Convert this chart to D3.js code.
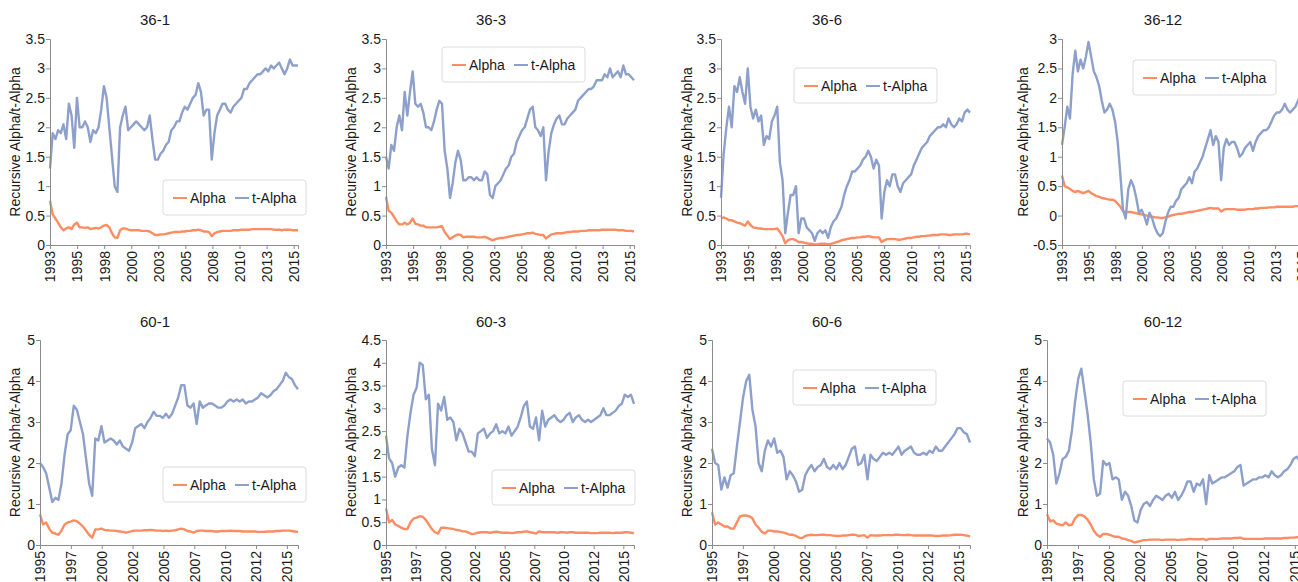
<!DOCTYPE html>
<html>
<head>
<meta charset="utf-8">
<script src="https://cdn.jsdelivr.net/npm/d3@7"></script>
<style>
  body { margin: 0; background: #fff; }
  svg { display: block; font-family: "Liberation Sans", Arial, sans-serif; }
  .axis path, .axis line { stroke: #8c8c8c; }
  .axis text { fill: #1a1a1a; font-size: 14px; }
</style>
</head>
<body>
<div id="chart"></div>
<script>
// quarterly readings, 36-month window (1993 -> end 2015)
var alpha36_1 = [0.75,0.52,0.45,0.38, 0.3,0.25,0.28,0.3, 0.27,0.35,0.38,0.3, 0.3,0.29,0.3,0.27,
  0.28,0.29,0.28,0.3, 0.33,0.34,0.3,0.2, 0.13,0.12,0.25,0.28, 0.28,0.26,0.25,0.25,
  0.25,0.25,0.24,0.24, 0.24,0.23,0.2,0.17, 0.17,0.18,0.18,0.19, 0.2,0.21,0.22,0.22,
  0.22,0.23,0.23,0.24, 0.24,0.25,0.25,0.26, 0.25,0.23,0.23,0.22, 0.15,0.2,0.22,0.23,
  0.24,0.24,0.24,0.24, 0.25,0.25,0.25,0.26, 0.26,0.26,0.26,0.27, 0.27,0.27,0.27,0.27,
  0.27,0.27,0.27,0.26, 0.26,0.26,0.25,0.26, 0.26,0.26,0.25,0.25, 0.25];
var tAlpha36_1 = [1.3,1.9,1.8,1.95, 1.9,2.05,1.8,2.4, 2.2,1.65,2.5,2.0, 2.0,2.1,2.0,1.75,
  1.95,1.9,2.0,2.3, 2.7,2.5,2.0,1.5, 1.0,0.9,2.0,2.2, 2.35,1.95,2.0,2.05,
  2.1,2.05,2.0,1.95, 2.0,2.2,1.8,1.45, 1.45,1.55,1.6,1.7, 1.75,1.95,2.0,2.1,
  2.1,2.25,2.35,2.3, 2.4,2.5,2.55,2.75, 2.6,2.2,2.3,2.3, 1.45,1.9,2.2,2.3,
  2.4,2.4,2.3,2.25, 2.35,2.4,2.45,2.5, 2.65,2.65,2.75,2.8, 2.85,2.9,2.9,2.95,
  3.0,2.95,3.05,3.0, 3.05,3.1,3.0,2.9, 3.0,3.15,3.05,3.05, 3.05];

var alpha36_3 = [0.82,0.58,0.55,0.48, 0.4,0.35,0.35,0.38, 0.35,0.38,0.45,0.36, 0.35,0.33,0.33,0.3,
  0.3,0.3,0.3,0.3, 0.31,0.32,0.22,0.16, 0.1,0.13,0.16,0.18, 0.17,0.13,0.14,0.14,
  0.14,0.14,0.13,0.13, 0.13,0.14,0.12,0.1, 0.08,0.1,0.11,0.12, 0.12,0.13,0.14,0.15,
  0.16,0.17,0.17,0.18, 0.19,0.2,0.2,0.21, 0.19,0.18,0.17,0.17, 0.11,0.15,0.18,0.19,
  0.2,0.2,0.2,0.21, 0.22,0.22,0.23,0.23, 0.23,0.24,0.24,0.24, 0.25,0.25,0.25,0.25,
  0.25,0.26,0.26,0.26, 0.26,0.26,0.26,0.25, 0.25,0.25,0.24,0.24, 0.24,0.23];
var tAlpha36_3 = [1.5,1.3,1.7,1.6, 2.0,2.2,1.95,2.6, 2.2,2.6,2.95,2.4, 2.35,2.4,2.25,2.0,
  2.0,1.95,2.1,2.3, 2.45,2.4,1.6,1.3, 0.8,1.05,1.4,1.6, 1.45,1.1,1.1,1.15,
  1.15,1.1,1.15,1.1, 1.1,1.25,1.2,0.85, 0.8,1.0,1.05,1.1, 1.2,1.3,1.35,1.5,
  1.55,1.75,1.85,1.95, 2.0,2.15,2.3,2.35, 2.0,1.95,1.85,2.0, 1.1,1.6,1.9,2.05,
  2.15,2.2,2.05,2.05, 2.15,2.2,2.25,2.3, 2.45,2.5,2.55,2.6, 2.65,2.65,2.7,2.8,
  2.8,2.8,2.9,2.85, 3.0,2.85,2.9,2.95, 2.85,3.05,2.9,2.9, 2.85,2.8];

var alpha36_6 = [0.45,0.47,0.45,0.42, 0.42,0.4,0.38,0.37, 0.35,0.33,0.4,0.34, 0.3,0.29,0.28,0.28,
  0.27,0.27,0.27,0.27, 0.27,0.28,0.22,0.15, 0.03,0.08,0.1,0.1, 0.08,0.05,0.05,0.04,
  0.03,0.02,0.02,0.01, 0.01,0.02,0.02,0.02, 0.01,0.02,0.03,0.05, 0.06,0.08,0.09,0.1,
  0.11,0.12,0.12,0.13, 0.13,0.14,0.14,0.15, 0.14,0.13,0.13,0.13, 0.05,0.08,0.1,0.1,
  0.1,0.1,0.09,0.09, 0.1,0.11,0.12,0.12, 0.13,0.14,0.14,0.15, 0.15,0.16,0.16,0.17,
  0.17,0.17,0.18,0.18, 0.18,0.17,0.17,0.18, 0.18,0.18,0.18,0.19, 0.19,0.18];
var tAlpha36_6 = [0.8,1.55,2.0,2.35, 2.0,2.7,2.6,2.85, 2.6,2.4,3.0,2.35, 2.15,2.3,2.1,2.2,
  1.7,1.85,1.8,2.1, 2.2,2.35,1.4,1.1, 0.2,0.55,0.85,0.85, 1.0,0.2,0.45,0.45,
  0.3,0.25,0.2,0.07, 0.2,0.25,0.2,0.25, 0.12,0.3,0.4,0.45, 0.55,0.65,0.85,1.0,
  1.1,1.25,1.25,1.3, 1.35,1.45,1.5,1.6, 1.5,1.3,1.45,1.35, 0.45,0.9,1.1,1.0,
  1.2,1.2,1.0,0.9, 1.05,1.1,1.15,1.2, 1.35,1.45,1.55,1.65, 1.7,1.75,1.85,1.9,
  1.95,2.0,2.0,2.05, 2.0,2.15,2.05,2.0, 2.05,2.15,2.1,2.25, 2.3,2.25];

var alpha36_12 = [0.68,0.5,0.48,0.45, 0.42,0.4,0.42,0.4, 0.38,0.4,0.42,0.38, 0.36,0.33,0.32,0.3,
  0.29,0.28,0.27,0.27, 0.25,0.2,0.15,0.08, 0.05,0.06,0.06,0.05, 0.04,0.03,0.02,0.01,
  0.0,-0.01,-0.02,-0.03, -0.03,-0.04,-0.04,-0.03, -0.02,0.0,0.01,0.02, 0.03,0.03,0.04,0.05,
  0.06,0.06,0.07,0.08, 0.09,0.1,0.11,0.12, 0.13,0.12,0.12,0.12, 0.07,0.1,0.11,0.11,
  0.11,0.11,0.1,0.1, 0.1,0.1,0.11,0.11, 0.11,0.12,0.12,0.13, 0.13,0.13,0.14,0.14,
  0.14,0.15,0.15,0.15, 0.15,0.15,0.15,0.15, 0.16,0.16,0.17,0.17, 0.17];
var tAlpha36_12 = [1.2,1.5,1.85,1.65, 2.4,2.8,2.45,2.65, 2.5,2.7,2.95,2.7, 2.45,2.35,2.2,1.95,
  1.75,1.8,1.9,1.8, 1.6,1.25,0.7,0.1, -0.05,0.45,0.6,0.5, 0.3,0.05,0.1,0.0,
  -0.15,0.05,-0.05,-0.2, -0.3,-0.35,-0.3,-0.1, 0.05,0.15,0.15,0.25, 0.3,0.45,0.5,0.55,
  0.65,0.55,0.75,0.8, 0.9,1.0,1.15,1.3, 1.45,1.2,1.35,1.25, 0.6,1.15,1.3,1.2,
  1.25,1.25,1.15,1.0, 1.05,1.15,1.2,1.25, 1.1,1.25,1.35,1.4, 1.45,1.45,1.5,1.6,
  1.7,1.75,1.75,1.8, 1.9,1.8,1.75,1.8, 1.85,1.95,2.05,2.1, 2.1];

// quarterly readings, 60-month window (1995 -> end 2015)
var alpha60_1 = [0.75,0.5,0.55,0.4, 0.3,0.28,0.25,0.35, 0.5,0.55,0.57,0.6, 0.58,0.52,0.45,0.35,
  0.25,0.18,0.38,0.38, 0.4,0.37,0.36,0.35, 0.35,0.34,0.33,0.32, 0.3,0.32,0.34,0.35,
  0.35,0.35,0.36,0.36, 0.37,0.36,0.35,0.35, 0.34,0.35,0.34,0.35, 0.36,0.38,0.4,0.38,
  0.34,0.33,0.3,0.34, 0.35,0.35,0.34,0.34, 0.34,0.33,0.33,0.34, 0.34,0.34,0.35,0.34,
  0.34,0.34,0.33,0.33, 0.33,0.33,0.33,0.32, 0.32,0.32,0.33,0.33, 0.33,0.34,0.34,0.35,
  0.35,0.35,0.34,0.33, 0.32];
var tAlpha60_1 = [2.0,1.9,1.75,1.4, 1.05,1.15,1.1,1.5, 2.2,2.7,2.8,3.4, 3.3,3.0,2.7,2.1,
  1.5,1.2,2.6,2.55, 2.9,2.5,2.55,2.6, 2.55,2.45,2.55,2.4, 2.35,2.3,2.5,2.85,
  2.9,2.95,2.85,3.0, 3.1,3.25,3.15,3.15, 3.1,3.2,3.1,3.2, 3.4,3.6,3.9,3.9,
  3.4,3.35,3.45,2.95, 3.5,3.35,3.4,3.45, 3.45,3.4,3.35,3.35, 3.4,3.5,3.55,3.5,
  3.55,3.5,3.55,3.45, 3.5,3.5,3.55,3.6, 3.7,3.65,3.6,3.65, 3.75,3.8,3.9,4.0,
  4.2,4.1,4.05,3.9, 3.8];

var alpha60_3 = [0.8,0.5,0.55,0.45, 0.42,0.38,0.35,0.35, 0.5,0.58,0.6,0.63, 0.62,0.55,0.45,0.35,
  0.28,0.25,0.38,0.38, 0.37,0.36,0.35,0.33, 0.32,0.3,0.3,0.27, 0.24,0.25,0.27,0.28,
  0.28,0.28,0.27,0.28, 0.29,0.28,0.27,0.27, 0.27,0.26,0.27,0.28, 0.28,0.29,0.3,0.28,
  0.27,0.25,0.3,0.28, 0.28,0.28,0.28,0.28, 0.27,0.28,0.28,0.27, 0.28,0.28,0.27,0.27,
  0.27,0.27,0.27,0.26, 0.26,0.26,0.27,0.27, 0.27,0.27,0.26,0.27, 0.27,0.27,0.28,0.28,
  0.27,0.26];
var tAlpha60_3 = [2.4,1.9,1.8,1.5, 1.7,1.75,1.7,2.4, 2.9,3.3,3.45,4.0, 3.95,3.2,3.3,2.1,
  1.75,3.1,2.95,3.25, 2.75,2.8,2.7,2.3, 2.55,2.45,2.25,2.05, 2.05,1.95,2.45,2.5,
  2.55,2.35,2.45,2.5, 2.65,2.45,2.5,2.45, 2.6,2.4,2.5,2.6, 2.8,3.05,3.15,2.6,
  2.55,2.8,2.3,2.95, 2.6,2.75,2.8,2.85, 2.75,2.7,2.75,2.85, 2.9,2.7,2.8,2.85,
  2.75,2.7,2.75,2.7, 2.75,2.8,2.85,3.0, 2.85,2.85,2.9,2.95, 3.05,3.1,3.3,3.25,
  3.3,3.1];

var alpha60_6 = [0.8,0.5,0.55,0.5, 0.45,0.45,0.4,0.4, 0.55,0.7,0.72,0.72, 0.7,0.65,0.5,0.42,
  0.32,0.28,0.35,0.35, 0.33,0.33,0.32,0.3, 0.28,0.25,0.25,0.22, 0.18,0.17,0.22,0.24,
  0.25,0.24,0.24,0.25, 0.25,0.24,0.24,0.23, 0.22,0.22,0.23,0.23, 0.24,0.25,0.25,0.22,
  0.23,0.24,0.18,0.24, 0.23,0.23,0.23,0.24, 0.24,0.24,0.24,0.25, 0.25,0.24,0.24,0.25,
  0.24,0.23,0.23,0.23, 0.23,0.23,0.23,0.23, 0.22,0.22,0.23,0.23, 0.23,0.24,0.25,0.25,
  0.25,0.24,0.23,0.21];
var tAlpha60_6 = [2.35,2.0,1.95,1.35, 1.65,1.4,1.7,1.75, 2.4,3.0,3.6,4.0, 4.15,3.3,2.9,2.0,
  1.8,2.3,2.55,2.4, 2.6,2.25,2.3,2.15, 1.6,1.8,1.7,1.55, 1.3,1.35,1.7,1.85,
  1.95,1.8,1.9,1.95, 2.1,1.9,1.85,1.95, 1.85,2.0,1.85,1.95, 2.15,2.35,2.4,1.95,
  2.0,2.2,1.6,2.2, 2.1,2.05,2.15,2.25, 2.2,2.25,2.2,2.3, 2.4,2.2,2.3,2.35,
  2.4,2.25,2.2,2.2, 2.25,2.2,2.3,2.25, 2.4,2.3,2.3,2.4, 2.5,2.6,2.7,2.85,
  2.85,2.75,2.7,2.5];

var alpha60_12 = [0.75,0.58,0.6,0.52, 0.5,0.48,0.55,0.48, 0.5,0.65,0.73,0.73, 0.7,0.62,0.5,0.35,
  0.25,0.2,0.27,0.27, 0.25,0.22,0.2,0.2, 0.16,0.15,0.12,0.1, 0.06,0.08,0.1,0.12,
  0.12,0.13,0.13,0.13, 0.13,0.12,0.13,0.13, 0.13,0.13,0.12,0.13, 0.13,0.14,0.15,0.14,
  0.14,0.14,0.15,0.12, 0.15,0.15,0.15,0.15, 0.16,0.16,0.16,0.16, 0.17,0.17,0.18,0.15,
  0.15,0.15,0.15,0.15, 0.15,0.15,0.16,0.16, 0.16,0.16,0.16,0.16, 0.17,0.17,0.18,0.18,
  0.19,0.19,0.19,0.19];
var tAlpha60_12 = [2.6,2.5,2.2,1.5, 1.75,2.1,2.15,2.3, 2.8,3.5,4.05,4.3, 3.75,3.2,2.5,1.6,
  1.2,1.25,2.05,1.95, 2.0,1.6,1.65,1.6, 1.1,1.3,1.2,0.95, 0.6,0.55,0.85,1.0,
  1.05,0.95,1.1,1.2, 1.15,1.1,1.2,1.25, 1.15,1.3,1.1,1.2, 1.35,1.55,1.55,1.3,
  1.5,1.45,1.6,1.0, 1.7,1.5,1.55,1.6, 1.65,1.65,1.7,1.75, 1.8,1.9,1.95,1.45,
  1.5,1.55,1.6,1.6, 1.65,1.65,1.7,1.65, 1.8,1.7,1.65,1.7, 1.8,1.85,1.95,2.1,
  2.15,2.05,2.05,2.0];

var titles = ["36-1", "36-3", "36-6", "36-12", "60-1", "60-3", "60-6", "60-12"];
var alphaSeries = [alpha36_1, alpha36_3, alpha36_6, alpha36_12, alpha60_1, alpha60_3, alpha60_6, alpha60_12];
var tAlphaSeries = [tAlpha36_1, tAlpha36_3, tAlpha36_6, tAlpha36_12, tAlpha60_1, tAlpha60_3, tAlpha60_6, tAlpha60_12];
var yRanges = [[0, 3.5, 0.5], [0, 3.5, 0.5], [0, 3.5, 0.5], [-0.5, 3, 0.5],
               [0, 5, 1], [0, 4.5, 0.5], [0, 5, 1], [0, 5, 1]];
var dateRanges = [[1993, 2015.9], [1995, 2015.9]];
var legendLabels = ["Alpha", "t-Alpha"];
var colors = ["#fc8d62", "#8da0cb"];

// layout: panel origin, plot left offset, legend box offset
var colX = [0, 336, 672, 1008];
var rowY = [{top: 39, bottom: 245, title: 25}, {top: 340, bottom: 545, title: 327}];
var plotLeft = [50, 50, 49, 54, 40, 50, 40, 39];
var legendPos = [[163, 180], [106, 47], [122, 68], [125, 60], [163, 467], [156, 470], [121, 370], [115, 381]];

var W = 1298, H = 582;
var svg = d3.select("#chart").append("svg").attr("width", W).attr("height", H);

titles.forEach(function(title, i) {
  var row = Math.floor(i / 4), col = i % 4;
  var ox = colX[col];
  var r = rowY[row];
  var dr = dateRanges[row];
  var yr = yRanges[i];

  var x = d3.scaleLinear().domain(dr).range([ox + plotLeft[i], ox + 298]);
  var y = d3.scaleLinear().domain([yr[0], yr[1]]).range([r.bottom, r.top]);

  var g = svg.append("g");

  g.append("text").attr("x", ox + 155).attr("y", r.title)
    .attr("text-anchor", "middle").style("font-size", "15px").attr("fill", "#1a1a1a")
    .text(title);

  g.append("text")
    .attr("transform", "translate(" + (ox + 15) + "," + ((r.top + r.bottom) / 2) + ") rotate(-90)")
    .attr("text-anchor", "middle").attr("dy", "0.35em")
    .style("font-size", "14px").attr("fill", "#1a1a1a")
    .text("Recursive Alpha/t-Alpha");

  // series
  [alphaSeries[i], tAlphaSeries[i]].forEach(function(vals, k) {
    var n = vals.length;
    var pts = vals.map(function(v, j) { return {d: dr[0] + j * (dr[1] - dr[0]) / (n - 1), v: v}; });
    var line = d3.line().x(function(p) { return x(p.d); }).y(function(p) { return y(p.v); });
    g.append("path").datum(pts).attr("d", line)
      .attr("fill", "none").attr("stroke", colors[k]).attr("stroke-width", 2.4)
      .attr("stroke-linejoin", "round");
  });

  // axes
  var yTicks = d3.range(yr[0], yr[1] + yr[2] / 2, yr[2]);
  g.append("g").attr("class", "axis")
    .attr("transform", "translate(" + x.range()[0] + ",0)")
    .call(d3.axisLeft(y).tickValues(yTicks).tickSize(4).tickPadding(1)
      .tickFormat(function(d) { return String(+d.toFixed(1)); }));

  var xTicks = d3.range(dr[0], dr[1], 2.5);
  var xa = g.append("g").attr("class", "axis")
    .attr("transform", "translate(0," + r.bottom + ")")
    .call(d3.axisBottom(x).tickValues(xTicks).tickSize(4)
      .tickFormat(function(d) { return String(Math.floor(d)); }));
  xa.selectAll("text")
    .attr("transform", "rotate(-90)")
    .attr("text-anchor", "end")
    .attr("x", -6).attr("y", 0).attr("dy", "0.35em");

  // legend
  var lp = legendPos[i];
  var lg = g.append("g").attr("transform", "translate(" + (ox + lp[0]) + "," + lp[1] + ")");
  lg.append("rect").attr("width", 143).attr("height", 35).attr("rx", 3)
    .attr("fill", "#fff").attr("stroke", "#dcdcdc");
  var itemX = [10, 72];
  legendLabels.forEach(function(lab, k) {
    lg.append("line").attr("x1", itemX[k]).attr("x2", itemX[k] + 14)
      .attr("y1", 18).attr("y2", 18).attr("stroke", colors[k]).attr("stroke-width", 2);
    lg.append("text").attr("x", itemX[k] + 17).attr("y", 18).attr("dy", "0.35em")
      .style("font-size", "14px").attr("fill", "#1a1a1a").text(lab);
  });
});
</script>
</body>
</html>
